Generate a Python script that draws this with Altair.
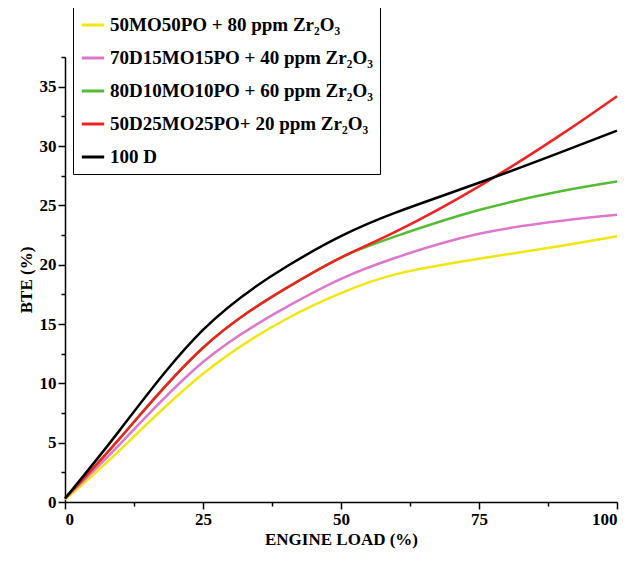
import pandas as pd
import altair as alt

load = [0, 10, 25, 40, 50, 60, 75, 90, 100]
series_names = [
    "50MO50PO + 80 ppm Zr₂O₃",
    "70D15MO15PO + 40 ppm Zr₂O₃",
    "80D10MO10PO + 60 ppm Zr₂O₃",
    "50D25MO25PO+ 20 ppm Zr₂O₃",
    "100 D",
]
colors = ["#f0e612", "#dd77cc", "#55bb33", "#ee2222", "#000000"]
yellow = [0.2, 4.4, 10.8, 15.4, 17.6, 19.2, 20.5, 21.6, 22.4]
pink = [0.3, 4.9, 11.8, 16.4, 18.8, 20.6, 22.6, 23.7, 24.2]
green = [0.3, 5.4, 13.0, 18.0, 20.6, 22.4, 24.6, 26.2, 27.0]
red = [0.3, 5.4, 13.0, 18.0, 20.6, 22.8, 26.6, 31.0, 34.2]
black = [0.3, 6.1, 14.5, 19.8, 22.4, 24.4, 26.9, 29.5, 31.3]

rows = []
for name, vals in zip(series_names, [yellow, pink, green, red, black]):
    for x, v in zip(load, vals):
        rows.append({"Load": x, "BTE": v, "Series": name})
df = pd.DataFrame(rows)

font = "Liberation Serif"
xs = alt.Scale(domain=[0, 100], nice=False)
ys = alt.Scale(domain=[0, 37.5], nice=False)

lines = alt.Chart(df).mark_line(strokeWidth=2.5, interpolate="natural").encode(
    x=alt.X("Load:Q", scale=xs, title="ENGINE LOAD (%)",
            axis=alt.Axis(values=[0, 25, 50, 75, 100], grid=False, orient="bottom")),
    y=alt.Y("BTE:Q", scale=ys, title="BTE (%)",
            axis=alt.Axis(values=[0, 5, 10, 15, 20, 25, 30, 35], grid=False, orient="left")),
    color=alt.Color("Series:N", sort=series_names,
                    scale=alt.Scale(domain=series_names, range=colors),
                    legend=alt.Legend(title=None, orient="none", legendX=8, legendY=-52,
                                      symbolType="stroke", symbolStrokeWidth=3,
                                      symbolSize=500, labelFont=font, labelFontSize=19,
                                      labelFontWeight="bold", labelLimit=400, rowPadding=10,
                                      strokeColor="black", padding=7, fillColor="white")),
)

minor = alt.Chart(df).mark_point(opacity=0).encode(
    x=alt.X("Load:Q", scale=xs, axis=alt.Axis(values=[12.5, 37.5, 62.5, 87.5], labels=False,
                                             title=None, domain=False, grid=False, tickSize=4,
                                             orient="bottom")),
    y=alt.Y("BTE:Q", scale=ys, axis=alt.Axis(values=[2.5 + 5 * i for i in range(8)], labels=False,
                                            title=None, domain=False, grid=False, tickSize=4,
                                            orient="left")),
)

chart = alt.layer(lines, minor).resolve_axis(x="independent", y="independent").properties(
    width=552, height=445, autosize="none",
    padding={"left": 57, "top": 49, "right": 15, "bottom": 62},
).configure_axis(
    labelFont=font, labelFontSize=17, labelFontWeight="bold", labelColor="black",
    titleFont=font, titleFontSize=17, titleFontWeight="bold", titleColor="black",
    domainColor="black", tickColor="black", tickSize=7, domainWidth=1.5, tickWidth=1.5,
).configure_view(stroke=None)

chart.save("out.html", embed_options={"renderer": "svg", "actions": False})
